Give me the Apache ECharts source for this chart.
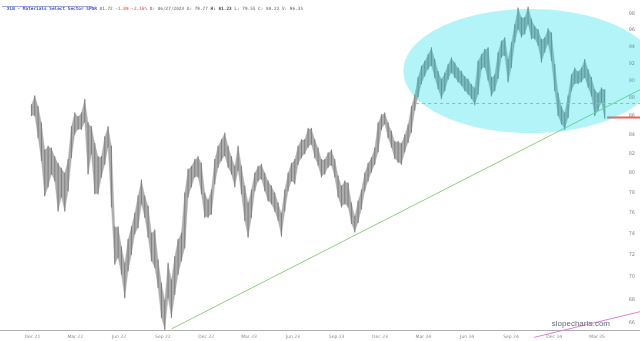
<!DOCTYPE html>
<html>
<head>
<meta charset="utf-8">
<script src="https://cdn.jsdelivr.net/npm/echarts@6/dist/echarts.min.js"></script>
<style>
html,body{margin:0;padding:0;background:#fff;}
#c{width:640px;height:341px;}
</style>
</head>
<body>
<div id="c"></div>
<script>
// ---- data (weekly bars) ----
const weekDates = [
'2021-11-29','2021-12-06','2021-12-13','2021-12-20','2021-12-27',
'2022-01-03','2022-01-10','2022-01-17','2022-01-24','2022-01-31',
'2022-02-07','2022-02-14','2022-02-21','2022-02-28',
'2022-03-07','2022-03-14','2022-03-21','2022-03-28',
'2022-04-04','2022-04-11','2022-04-18','2022-04-25',
'2022-05-02','2022-05-09','2022-05-16','2022-05-23','2022-05-30',
'2022-06-06','2022-06-13','2022-06-20','2022-06-27',
'2022-07-04','2022-07-11','2022-07-18','2022-07-25',
'2022-08-01','2022-08-08','2022-08-15','2022-08-22','2022-08-29',
'2022-09-05','2022-09-12','2022-09-19','2022-09-26',
'2022-10-03','2022-10-10','2022-10-17','2022-10-24','2022-10-31',
'2022-11-07','2022-11-14','2022-11-21','2022-11-28',
'2022-12-05','2022-12-12','2022-12-19','2022-12-26',
'2023-01-02','2023-01-09','2023-01-16','2023-01-23','2023-01-30',
'2023-02-06','2023-02-13','2023-02-20','2023-02-27',
'2023-03-06','2023-03-13','2023-03-20','2023-03-27',
'2023-04-03','2023-04-10','2023-04-17','2023-04-24',
'2023-05-01','2023-05-08','2023-05-15','2023-05-22','2023-05-29',
'2023-06-05','2023-06-12','2023-06-19','2023-06-26',
'2023-07-03','2023-07-10','2023-07-17','2023-07-24','2023-07-31',
'2023-08-07','2023-08-14','2023-08-21','2023-08-28',
'2023-09-04','2023-09-11','2023-09-18','2023-09-25',
'2023-10-02','2023-10-09','2023-10-16','2023-10-23','2023-10-30',
'2023-11-06','2023-11-13','2023-11-20','2023-11-27',
'2023-12-04','2023-12-11','2023-12-18','2023-12-25',
'2024-01-01','2024-01-08','2024-01-15','2024-01-22','2024-01-29',
'2024-02-05','2024-02-12','2024-02-19','2024-02-26',
'2024-03-04','2024-03-11','2024-03-18','2024-03-25',
'2024-04-01','2024-04-08','2024-04-15','2024-04-22','2024-04-29',
'2024-05-06','2024-05-13','2024-05-20','2024-05-27',
'2024-06-03','2024-06-10','2024-06-17','2024-06-24',
'2024-07-01','2024-07-08','2024-07-15','2024-07-22','2024-07-29',
'2024-08-05','2024-08-12','2024-08-19','2024-08-26',
'2024-09-02','2024-09-09','2024-09-16','2024-09-23','2024-09-30',
'2024-10-07','2024-10-14','2024-10-21','2024-10-28',
'2024-11-04','2024-11-11','2024-11-18','2024-11-25',
'2024-12-02','2024-12-09','2024-12-16','2024-12-23','2024-12-30',
'2025-01-06','2025-01-13','2025-01-20','2025-01-27',
'2025-02-03','2025-02-10','2025-02-17','2025-02-24',
'2025-03-03','2025-03-10','2025-03-17'
];
const weekHigh = [
87.2,88.2,87.0,85.2,82.3, 82.7,82.5,81.6,80.9,80.4,
79.9,81.3,84.8,86.3,85.9, 86.3,87.8,85.2,84.8,83.0,
81.6,81.6,83.7,84.8,82.7, 74.6,74.6,72.7,71.2,73.4,
74.6,75.9,77.6,79.2,77.6, 76.6,74.0,74.3,71.5,69.4,
67.9,71.2,69.7,71.8,73.4, 74.0,77.9,80.3,80.6,81.3,
81.6,80.9,77.9,77.2,78.2, 81.3,82.7,83.4,84.1,82.7,
81.6,80.6,82.7,80.6,78.6, 76.9,78.2,79.9,80.6,80.8,
79.9,79.1,78.6,77.9,76.9, 75.9,78.2,79.9,80.9,81.3,
82.7,83.4,83.4,84.6,84.6, 83.4,82.5,81.3,81.3,82.0,
82.3,81.3,79.6,78.6,79.1, 78.9,76.9,75.6,77.1,78.2,
79.9,80.9,81.5,82.5,85.2, 86.1,86.3,85.2,84.3,83.2,
83.2,83.0,83.9,85.0,87.0, 88.3,90.3,91.6,92.2,93.0,
93.8,92.4,91.0,90.1,90.8, 91.8,92.6,92.0,91.4,91.0,
90.4,90.1,89.5,89.1,92.2, 93.0,93.6,93.8,90.3,90.6,
93.2,94.6,95.0,92.4,94.4, 96.6,98.7,97.5,97.5,98.8,
97.3,96.4,96.0,94.8,95.0, 96.1,95.6,91.8,88.5,87.0,
86.3,88.2,90.6,91.4,91.0, 91.4,92.4,91.2,90.3,88.9,
88.5,89.1,88.9
];
const weekLow = [
86.1,86.1,83.7,81.3,77.7, 78.6,79.9,79.2,76.2,77.6,
76.2,78.2,81.6,84.1,84.6, 84.6,85.4,79.9,82.0,77.9,
77.9,79.6,80.9,82.7,76.6, 71.2,71.8,70.3,68.2,70.6,
72.1,74.0,74.6,76.9,75.6, 73.7,71.5,70.9,69.1,66.5,
65.5,68.2,66.5,68.5,70.3, 71.5,72.7,77.6,78.6,79.6,
79.6,77.9,75.6,75.6,75.9, 78.9,80.6,81.3,81.8,80.6,
79.9,78.6,80.3,77.9,75.3, 73.7,75.6,78.2,79.2,79.4,
78.2,77.2,76.9,76.2,75.3, 73.8,76.2,78.2,79.2,78.9,
80.9,81.6,82.0,82.7,83.0, 81.6,80.8,79.6,79.9,80.6,
80.8,79.6,77.6,76.6,76.9, 76.6,75.0,74.2,75.1,76.4,
78.2,79.2,80.1,80.9,82.2, 84.6,85.2,83.7,82.7,81.5,
81.1,80.9,82.2,83.2,84.3, 86.7,88.2,89.7,90.6,91.4,
91.8,90.4,89.1,88.0,88.9, 90.2,91.0,90.4,89.9,89.5,
88.9,88.5,88.0,87.3,88.5, 91.4,91.6,90.1,88.3,88.9,
90.3,92.8,93.0,89.9,91.6, 94.6,96.2,95.2,95.6,96.8,
95.0,95.0,94.2,92.2,93.4, 94.4,92.4,88.9,86.1,85.2,
84.6,85.9,88.9,89.7,89.7, 89.9,90.4,89.3,88.3,86.1,
86.7,87.6,85.8
];
const xTickDates = ['2021-12-01','2022-03-01','2022-06-01','2022-09-01','2022-12-01','2023-03-01','2023-06-01','2023-09-01','2023-12-01','2024-03-01','2024-06-01','2024-09-01','2024-12-01','2025-03-01'];
const xTickLabels = ['Dec 21','Mar 22','Jun 22','Sep 22','Dec 22','Mar 23','Jun 23','Sep 23','Dec 23','Mar 24','Jun 24','Sep 24','Dec 24','Mar 25'];
const yTicks = [66,68,70,72,74,76,78,80,82,84,86,88,90,92,94,96,98];
const trendLine = [['2022-09-19', 65.5], ['2025-05-30', 88.95]];
const pinkLine = [['2024-10-20', 64.8], ['2025-05-30', 66.96]];
const supportLine = [['2024-02-15', 87.4], ['2025-05-30', 87.4]];
const lastLine = [['2025-03-22', 85.85], ['2025-05-30', 85.85]];
const ellipseBox = {left:'2024-01-19', right:'2025-07-05', top:98.63, bottom:84.16};
const xMin = '2021-09-24', xMax = '2025-05-30';
const yMin = 65.41, yMax = 99.77;
const titleName = 'XLB - Materials Select Sector SPDR';
const titleLast = '81.72';
const titleChg = '-1.89 -2.16%';
const titleInfo1 = 'D: 06/27/2023 O: 79.77';
const titleHigh = 'H: 81.23';
const titleInfo2 = 'L: 79.55 C: 80.22 V: 96.35';

// ---- chart ----
const chart = echarts.init(document.getElementById('c'), null, {renderer:'canvas'});
const toTs = s => new Date(s + 'T00:00:00Z').getTime();
const xTickTs = xTickDates.map(toTs);
const bars = weekDates.map((d, i) => [toTs(d), weekLow[i], weekHigh[i]]);
const pts = arr => arr.map(p => [toTs(p[0]), p[1]]);
const mono = 'DejaVu Sans Mono';

const option = {
  animation: false,
  backgroundColor: '#ffffff',
  title: {
    left: 2, top: 2,
    text: '{a|' + titleName + '} {b|' + titleLast + '} {c|' + titleChg + '} {b|' + titleInfo1 + '} {d|' + titleHigh + '} {b|' + titleInfo2 + '}',
    textStyle: {
      fontSize: 4.4, fontFamily: mono,
      rich: {
        a: {color: '#3a4fd0', fontSize: 4.4, fontFamily: mono, fontWeight: 'bold'},
        b: {color: '#8a8a8a', fontSize: 4.4, fontFamily: mono},
        c: {color: '#f07070', fontSize: 4.4, fontFamily: mono},
        d: {color: '#444', fontSize: 4.4, fontFamily: mono, fontWeight: 'bold'}
      }
    }
  },
  grid: {left: 0, right: 0, top: 0, bottom: 11},
  xAxis: {
    type: 'value', min: toTs(xMin), max: toTs(xMax), scale: true,
    axisLine: {show: true, onZero: false, lineStyle: {color: '#b0b0b0', width: 1}},
    axisTick: {show: false},
    splitLine: {show: false},
    axisLabel: {
      customValues: xTickTs,
      fontSize: 4.5, color: '#8a8a8a', margin: 4, fontFamily: 'DejaVu Sans',
      hideOverlap: false,
      formatter: function (v) {
        let best = 0, bd = Infinity;
        xTickTs.forEach((t, i) => { const d = Math.abs(t - v); if (d < bd) { bd = d; best = i; } });
        return xTickLabels[best];
      }
    }
  },
  yAxis: {
    type: 'log', logBase: 10, min: yMin, max: yMax, position: 'right',
    axisLine: {show: false}, axisTick: {show: false}, splitLine: {show: false},
    axisLabel: {
      customValues: yTicks, inside: true, fontSize: 5, color: '#888', margin: 5,
      fontFamily: 'DejaVu Sans',
      formatter: v => String(Math.round(v))
    }
  },
  series: [
    {
      type: 'custom', name: 'XLB', data: bars, z: 2,
      encode: {x: 0, y: [1, 2]},
      renderItem: function (params, api) {
        const i = params.dataIndex;
        const x = api.value(0);
        const lo = api.coord([x, api.value(1)]);
        const hi = api.coord([x, api.value(2)]);
        const children = [];
        if (i + 1 < bars.length) {
          const nb = bars[i + 1];
          const lo2 = api.coord([nb[0], nb[1]]);
          const hi2 = api.coord([nb[0], nb[2]]);
          children.push({type: 'polygon', shape: {points: [lo, hi, hi2, lo2]},
                         style: {fill: '#adadad', stroke: '#adadad', lineWidth: 0.4}});
        }
        children.push({type: 'line', z2: 5, shape: {x1: lo[0], y1: lo[1] + 1, x2: hi[0], y2: hi[1] - 1},
                       style: {stroke: '#777777', lineWidth: 0.9}});
        return {type: 'group', children: children};
      }
    },
    {type: 'line', data: pts(trendLine), symbol: 'none', z: 4, lineStyle: {color: '#8fd080', width: 1}},
    {type: 'line', data: pts(pinkLine), symbol: 'none', z: 4, clip: false, lineStyle: {color: '#e080e0', width: 1}},
    {type: 'line', data: pts(supportLine), symbol: 'none', z: 4, lineStyle: {color: '#e8a090', width: 1, type: [3, 3]}},
    {type: 'line', data: pts(lastLine), symbol: 'none', z: 4, lineStyle: {color: '#f06050', width: 2}}
  ]
};
chart.setOption(option);

const p1 = chart.convertToPixel({gridIndex: 0}, [toTs(ellipseBox.left), ellipseBox.top]);
const p2 = chart.convertToPixel({gridIndex: 0}, [toTs(ellipseBox.right), ellipseBox.bottom]);
chart.setOption({
  graphic: [
    {type: 'ellipse', z: 10, silent: true,
     shape: {cx: (p1[0] + p2[0]) / 2, cy: (p1[1] + p2[1]) / 2, rx: (p2[0] - p1[0]) / 2, ry: (p2[1] - p1[1]) / 2},
     style: {fill: 'rgba(0,220,230,0.30)'}},
    {type: 'rect', z: 20, silent: true, shape: {x: 2, y: 6.6, width: 90, height: 0.5}, style: {fill: '#3a4fd0'}},
    {type: 'text', z: 20, silent: true, right: 30, bottom: 13,
     style: {text: 'slopecharts.com', fill: '#666a78', font: '8px "Liberation Sans"'}}
  ]
});
</script>
</body>
</html>
